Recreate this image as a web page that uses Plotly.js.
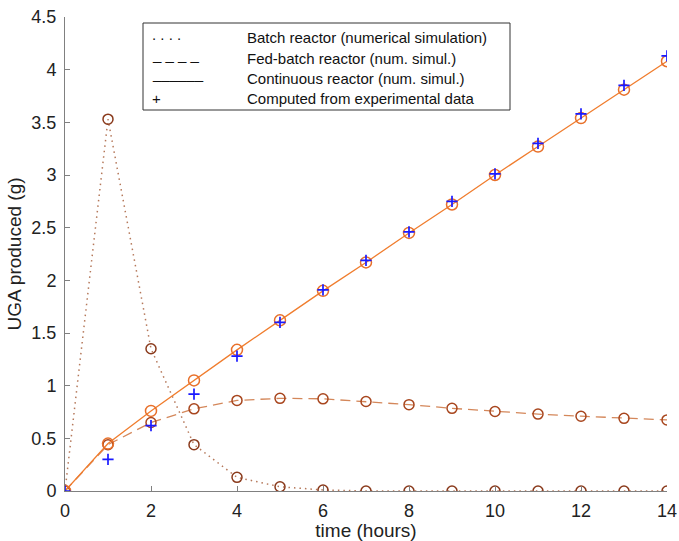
<!DOCTYPE html>
<html>
<head>
<meta charset="utf-8">
<script src="https://cdn.plot.ly/plotly-3.0.1.min.js"></script>
<style>html,body{margin:0;padding:0;background:#fff;}#chart{width:679px;height:541px;}</style>
</head>
<body>
<div id="chart"></div>
<script>
const time = [0,1,2,3,4,5,6,7,8,9,10,11,12,13,14];
const batch = [0,3.53,1.35,0.44,0.13,0.04,0.01,0,0,0,0,0,0,0,0];
const fedBatch = [0,0.44,0.65,0.78,0.86,0.88,0.875,0.85,0.82,0.785,0.755,0.73,0.71,0.69,0.675];
const continuous = [0,0.45,0.76,1.05,1.34,1.62,1.90,2.17,2.45,2.72,3.00,3.27,3.54,3.81,4.08];
const experimental = [0,0.30,0.62,0.92,1.28,1.60,1.91,2.19,2.46,2.75,3.01,3.30,3.58,3.85,4.13];
const legendSymbols = ['. . . .', '_ _ _ _', '______', '+'];
const legendLabels = ['Batch reactor (numerical simulation)', 'Fed-batch reactor (num. simul.)', 'Continuous reactor (num. simul.)', 'Computed from experimental data'];

const W = 679, H = 541, L = 65, R = 12, T = 17, B = 50;
const pw = W - L - R, ph = H - T - B;
const px = x => (x - L) / pw;
const py = y => (H - B - y) / ph;

const brown = '#8a3a1c';
const traces = [
  {x: time, y: batch, mode: 'lines', line: {color: '#b5785a', dash: '1.5px,4px', width: 1.5}},
  {x: time, y: batch, mode: 'markers', marker: {symbol: 'circle-open', size: 10, color: brown, line: {width: 1.5, color: brown}}},
  {x: time, y: fedBatch, mode: 'lines', line: {color: '#d4875a', dash: '10px,6px', width: 1.3}},
  {x: time, y: fedBatch, mode: 'markers', marker: {symbol: 'circle-open', size: 10, color: '#a8461e', line: {width: 1.5, color: '#a8461e'}}},
  {x: time, y: continuous, mode: 'lines+markers', line: {color: '#f07d2e', width: 1.3}, marker: {symbol: 'circle-open', size: 11, color: '#e8702a', line: {width: 1.5, color: '#e8702a'}}},
  {x: time, y: experimental, mode: 'markers', marker: {symbol: 'cross-thin-open', size: 8, color: '#1a1aff', line: {width: 1.7, color: '#1a1aff'}}}
];

const ann = [];
const rowY = [37, 58, 78, 98];
for (let i = 0; i < 4; i++) {
  ann.push({xref: 'paper', yref: 'paper', x: px(245), y: py(rowY[i]), xanchor: 'left', yanchor: 'middle', text: legendLabels[i], showarrow: false, font: {family: 'Liberation Sans, Arial, sans-serif', size: 15, color: '#111'}});
  ann.push({xref: 'paper', yref: 'paper', x: px(150), y: py(rowY[i] + (i === 0 ? -2 : i === 3 ? 0 : -4)), xanchor: 'left', yanchor: 'middle', text: legendSymbols[i], showarrow: false, font: {family: 'Liberation Sans, Arial, sans-serif', size: 15, color: '#111'}});
}

const layout = {
  width: W, height: H,
  margin: {l: L, r: R, t: T, b: B},
  paper_bgcolor: '#fff', plot_bgcolor: '#fff',
  showlegend: false,
  font: {family: 'Liberation Sans, Arial, sans-serif', color: '#222'},
  xaxis: {range: [0, 14], tickvals: [0,2,4,6,8,10,12,14], ticks: 'inside', ticklen: 5, tickcolor: '#808080',
          showline: true, linecolor: '#808080', linewidth: 1, showgrid: false, zeroline: false, ticklabelstandoff: 3,
          tickfont: {size: 18, color: '#222'}, title: {text: 'time (hours)', font: {size: 19, color: '#222'}, standoff: 2}},
  yaxis: {range: [0, 4.5], tickvals: [0,0.5,1,1.5,2,2.5,3,3.5,4,4.5], ticktext: ['0','0.5','1','1.5','2','2.5','3','3.5','4','4.5'],
          ticks: 'inside', ticklen: 5, tickcolor: '#808080', ticklabelstandoff: 4,
          showline: true, linecolor: '#808080', linewidth: 1, showgrid: false, zeroline: false,
          tickfont: {size: 18, color: '#222'}, title: {text: 'UGA produced (g)', font: {size: 19, color: '#222'}, standoff: 4}},
  shapes: [{type: 'rect', xref: 'paper', yref: 'paper', x0: px(143), x1: px(510), y0: py(110), y1: py(23), line: {color: '#333', width: 1}, fillcolor: 'rgba(255,255,255,0)'}],
  annotations: ann
};

Plotly.newPlot('chart', traces, layout, {displayModeBar: false, staticPlot: true});
</script>
</body>
</html>
